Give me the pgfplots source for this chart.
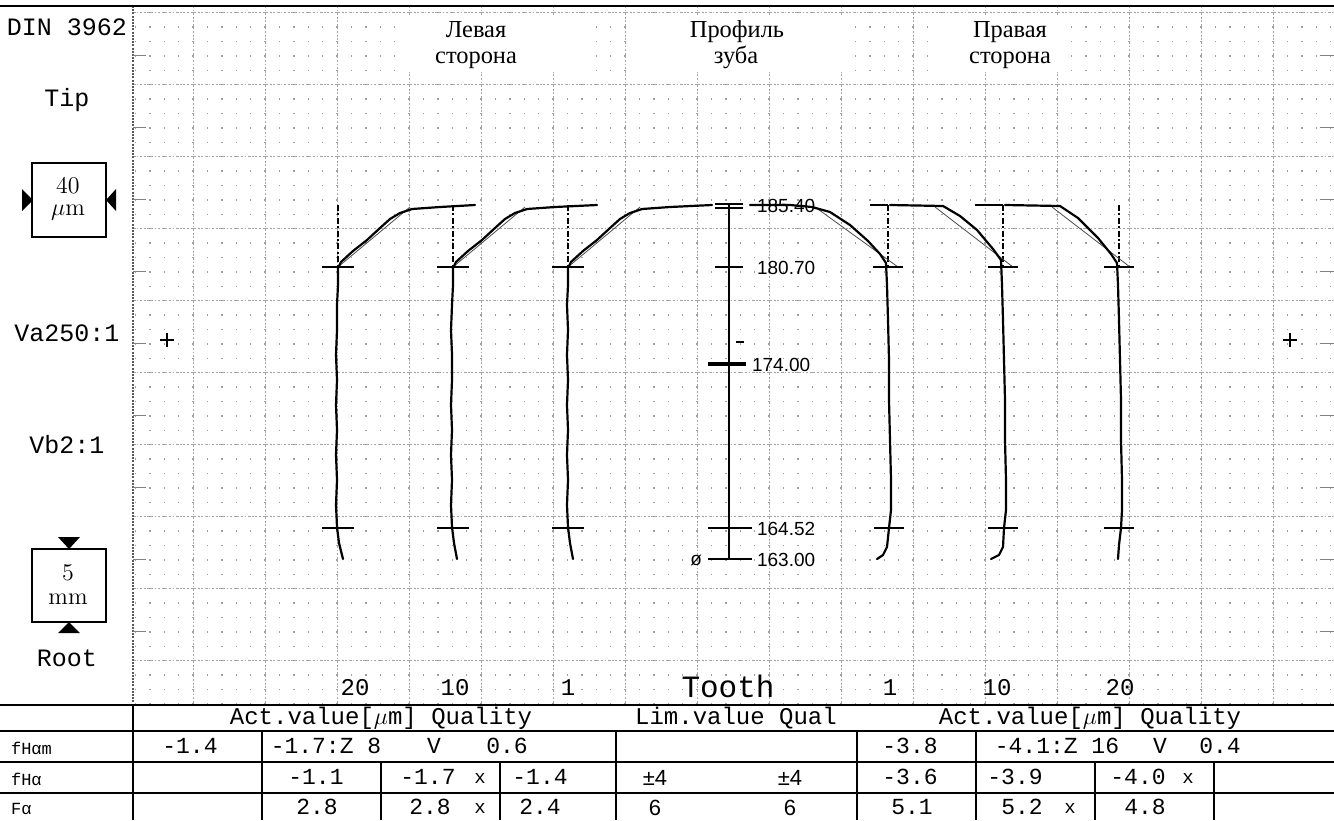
\documentclass[border=0pt]{standalone}
\usepackage{pgfplots}
\pgfplotsset{compat=1.18}
\usepackage{fontspec}
\newfontfamily\mono{Liberation Mono}
\newfontfamily\rufont{Liberation Serif}
\newfontfamily\arialf{Liberation Sans}
\tikzset{
  majg/.style={gray!70, line width=0.45pt, dash pattern=on 0.9pt off 0.9pt},
  ming/.style={gray!75, line width=0.7pt, dash pattern=on 0.7pt off 6.5pt},
  tr/.style={black, line width=1.1pt, line join=round, line cap=round},
  crs/.style={black, line width=1.4pt},
  refl/.style={black, line width=0.9pt, dash pattern=on 3pt off 1.2pt on 1pt off 1.2pt},
  noml/.style={black!70, line width=0.4pt},
  tbl/.style={black, line width=0.9pt},
  lab/.style={font=\mono\fontsize{12.5}{15}\selectfont},
  tv/.style={font=\mono\fontsize{11.5}{13}\selectfont},
  hd/.style={font=\mono\fontsize{12}{14}\selectfont},
  rl/.style={font=\mono\fontsize{8.5}{10}\selectfont, anchor=west},
  scl/.style={font=\arialf\fontsize{9.5}{11}\selectfont, anchor=west},
  ru/.style={font=\rufont\fontsize{12.2}{14}\selectfont, inner sep=0pt, anchor=base},
  sv/.style={font=\arialf\fontsize{11}{13}\selectfont},
}
\begin{document}
\begin{tikzpicture}
\begin{axis}[
  scale only axis, width=667pt, height=410pt,
  xmin=0, xmax=1334, ymin=0, ymax=820, y dir=reverse,
  hide axis, clip=false,
]
% ---------- grid ----------
\pgfplotsinvokeforeach{135.4,149.8,...,1331}{\draw[ming] (axis cs:#1,12) -- (axis cs:#1,705);}
\pgfplotsinvokeforeach{193,265,...,1273}{\draw[majg] (axis cs:#1,6) -- (axis cs:#1,705);}
\pgfplotsinvokeforeach{12,84,...,660}{\draw[majg] (axis cs:133,#1) -- (axis cs:1334,#1);}
\draw[gray!70!black, line width=0.6pt, dash pattern=on 1pt off 0.6pt] (axis cs:133,6) -- (axis cs:133,705);
\pgfplotsinvokeforeach{55,127,...,631}{\draw[gray, line width=0.5pt] (axis cs:133,#1) -- (axis cs:146,#1);
  \draw[gray, line width=0.5pt] (axis cs:1320,#1) -- (axis cs:1334,#1);}
\draw[black, line width=0.8pt] (axis cs:0,6) -- (axis cs:1334,6);
% white title boxes
\fill[white] (axis cs:408,15) rectangle (axis cs:590,72);
\fill[white] (axis cs:632,15) rectangle (axis cs:850,72);
\fill[white] (axis cs:940,15) rectangle (axis cs:1070,72);

% ---------- left panel ----------
\node[lab] at (axis cs:67,27) {DIN 3962};
\node[lab] at (axis cs:67,100) {Tip};
\node[lab] at (axis cs:67,333) {Va250:1};
\node[lab] at (axis cs:67,445) {Vb2:1};
\node[lab] at (axis cs:67,658) {Root};
\draw[black, line width=1.1pt] (axis cs:32,163) rectangle (axis cs:106,237);
\node[font=\fontsize{12}{14}\selectfont] at (axis cs:68,186) {40};
\node[font=\fontsize{12}{14}\selectfont] at (axis cs:68,213) {$\mu$m};
\fill (axis cs:22,189) -- (axis cs:33,200) -- (axis cs:22,211) -- cycle;
\fill (axis cs:116,189) -- (axis cs:106,200) -- (axis cs:116,211) -- cycle;
\draw[black, line width=1.1pt] (axis cs:32,549) rectangle (axis cs:106,622);
\node[font=\fontsize{12}{14}\selectfont] at (axis cs:68,573) {5};
\node[font=\fontsize{12}{14}\selectfont] at (axis cs:68,599) {mm};
\fill (axis cs:58,537) -- (axis cs:80,537) -- (axis cs:69,549) -- cycle;
\fill (axis cs:58,633) -- (axis cs:80,633) -- (axis cs:69,622) -- cycle;

% ---------- titles ----------
\node[ru] at (axis cs:476,37) {Левая};
\node[ru] at (axis cs:476,63) {сторона};
\node[ru] at (axis cs:737,37) {Профиль};
\node[ru] at (axis cs:736,63) {зуба};
\node[ru] at (axis cs:1010,37) {Правая};
\node[ru] at (axis cs:1010,63) {сторона};

% plus marks
\addplot[black, line width=0.6pt] coordinates {(160,340) (174,340)};
\addplot[black, line width=0.6pt] coordinates {(167,333) (167,347)};
\addplot[black, line width=0.6pt] coordinates {(1283,340) (1297,340)};
\addplot[black, line width=0.6pt] coordinates {(1290,333) (1290,347)};

% ---------- centre scale ----------
\addplot[black, line width=0.7pt] coordinates {(729,204) (729,559)};
\addplot[black, line width=0.8pt] coordinates {(715,204) (743,204)};
\addplot[black, line width=0.8pt] coordinates {(715,208) (743,208)};
\addplot[black, line width=0.8pt] coordinates {(715,267) (743,267)};
\addplot[black, line width=0.6pt] coordinates {(736,342) (744,342)};
\addplot[black, line width=2.2pt] coordinates {(708,364) (746,364)};
\addplot[black, line width=0.8pt] coordinates {(708,528) (752,528)};
\addplot[black, line width=0.8pt] coordinates {(708,559) (752,559)};
\node[scl] at (axis cs:750,206) {185.40};
\node[scl] at (axis cs:750,268) {180.70};
\node[scl] at (axis cs:745,365) {174.00};
\node[scl] at (axis cs:750,529) {164.52};
\node[scl] at (axis cs:750,560) {163.00};
\node[font=\arialf\fontsize{9.5}{11}\selectfont, anchor=east] at (axis cs:709,560) {ø};

% ---------- left flank traces ----------
% tooth 20
\addplot[refl] coordinates {(338,205) (338,267)};
\addplot[noml] coordinates {(338,267) (410,207)};
\addplot[tr] coordinates {(343,559) (339,543) (337,527) (336,505) (337,480) (336,455) (337,430) (336,405) (337,380) (336,355) (337,330) (337,305) (338,285) (338,268) (341,262) (353,251) (367,240) (380,228) (390,219) (400,213) (412,209) (440,207) (475,205)};
\addplot[crs] coordinates {(322,267) (354,267)};
\addplot[crs] coordinates {(322,528) (354,528)};
% tooth 10
\addplot[refl] coordinates {(453,205) (453,267)};
\addplot[noml] coordinates {(453,267) (525,207)};
\addplot[tr] coordinates {(457,559) (454,543) (452,527) (451,505) (452,480) (451,455) (452,430) (451,405) (452,380) (452,355) (451,330) (452,305) (453,285) (453,268) (456,262) (468,251) (482,240) (495,228) (505,219) (515,213) (527,209) (555,207) (597,205)};
\addplot[crs] coordinates {(437,267) (469,267)};
\addplot[crs] coordinates {(437,528) (469,528)};
% tooth 1
\addplot[refl] coordinates {(568,205) (568,267)};
\addplot[noml] coordinates {(568,267) (640,207)};
\addplot[tr] coordinates {(573,559) (570,543) (568,527) (567,505) (568,480) (567,455) (568,430) (567,405) (568,380) (567,355) (568,330) (567,305) (568,285) (568,268) (571,262) (583,251) (597,240) (610,228) (620,219) (630,213) (642,209) (670,207) (712,205)};
\addplot[crs] coordinates {(552,267) (584,267)};
\addplot[crs] coordinates {(552,528) (584,528)};

% ---------- right flank traces ----------
% tooth 1
\addplot[black, line width=1.1pt] coordinates {(870,205) (888,205)};
\addplot[refl] coordinates {(888,205) (888,267)};
\addplot[noml] coordinates {(815,207) (898,267)};
\addplot[tr] coordinates {(750,205) (790,205) (812,207) (830,212) (850,225) (868,241) (880,254) (886,263) (887,285) (888,320) (889,360) (889,400) (890,440) (891,480) (891,510) (889,528) (887,547) (883,555) (877,559)};
\addplot[crs] coordinates {(873,267) (903,267)};
\addplot[crs] coordinates {(874,528) (904,528)};
% tooth 10
\addplot[black, line width=1.1pt] coordinates {(975,205) (1003,205)};
\addplot[refl] coordinates {(1003,205) (1003,267)};
\addplot[noml] coordinates {(935,207) (1013,267)};
\addplot[tr] coordinates {(890,205) (943,206) (960,216) (977,230) (993,249) (1001,260) (1002,285) (1003,320) (1004,360) (1005,400) (1005,440) (1006,480) (1006,510) (1004,528) (1003,547) (999,555) (991,559)};
\addplot[crs] coordinates {(988,267) (1018,267)};
\addplot[crs] coordinates {(988,528) (1018,528)};
% tooth 20
\addplot[refl] coordinates {(1119,205) (1119,267)};
\addplot[noml] coordinates {(1052,207) (1130,267)};
\addplot[tr] coordinates {(1005,205) (1060,206) (1078,218) (1098,238) (1111,254) (1117,263) (1118,285) (1119,320) (1120,360) (1121,400) (1121,440) (1122,480) (1122,510) (1121,528) (1119,545) (1118,559)};
\addplot[crs] coordinates {(1104,267) (1134,267)};
\addplot[crs] coordinates {(1104,528) (1134,528)};

% ---------- tooth labels ----------
\node[font=\mono\fontsize{12}{14}\selectfont] at (axis cs:355,688) {20};
\node[font=\mono\fontsize{12}{14}\selectfont] at (axis cs:455,688) {10};
\node[font=\mono\fontsize{12}{14}\selectfont] at (axis cs:568,688) {1};
\node[font=\mono\fontsize{15.5}{17}\selectfont] at (axis cs:728,686) {Tooth};
\node[font=\mono\fontsize{12}{14}\selectfont] at (axis cs:890,688) {1};
\node[font=\mono\fontsize{12}{14}\selectfont] at (axis cs:997,688) {10};
\node[font=\mono\fontsize{12}{14}\selectfont] at (axis cs:1120,688) {20};

% ---------- table ----------
\fill[white] (axis cs:0,705) rectangle (axis cs:1334,820);
\draw[black, line width=1.3pt] (axis cs:0,705) -- (axis cs:1334,705);
\draw[tbl] (axis cs:0,731) -- (axis cs:1334,731);
\draw[tbl] (axis cs:0,762) -- (axis cs:1334,762);
\draw[tbl] (axis cs:0,793) -- (axis cs:1334,793);
\draw[tbl] (axis cs:133,705) -- (axis cs:133,820);
\draw[tbl] (axis cs:262,731) -- (axis cs:262,820);
\draw[tbl] (axis cs:381,762) -- (axis cs:381,820);
\draw[tbl] (axis cs:500,762) -- (axis cs:500,820);
\draw[tbl] (axis cs:616,731) -- (axis cs:616,820);
\draw[tbl] (axis cs:857,731) -- (axis cs:857,820);
\draw[tbl] (axis cs:976,731) -- (axis cs:976,820);
\draw[tbl] (axis cs:1095,762) -- (axis cs:1095,820);
\draw[tbl] (axis cs:1214,762) -- (axis cs:1214,820);
% header
\node[hd] at (axis cs:381,718) {Act.value[$\mu$m] Quality};
\node[hd] at (axis cs:736,718) {Lim.value Qual};
\node[hd] at (axis cs:1090,718) {Act.value[$\mu$m] Quality};
% row labels
\node[rl] at (axis cs:4,748) {fHαm};
\node[rl] at (axis cs:4,779) {fHα};
\node[rl] at (axis cs:4,809) {Fα};
% row fHam
\node[tv] at (axis cs:190,746) {-1.4};
\node[tv] at (axis cs:326,746) {-1.7:Z 8};
\node[tv] at (axis cs:434,746) {V};
\node[tv] at (axis cs:507,746) {0.6};
\node[tv] at (axis cs:910,746) {-3.8};
\node[tv] at (axis cs:1057,746) {-4.1:Z 16};
\node[tv] at (axis cs:1160,746) {V};
\node[tv] at (axis cs:1220,746) {0.4};
% row fHa
\node[tv] at (axis cs:316,777) {-1.1};
\node[tv] at (axis cs:428,777) {-1.7};
\node[tv] at (axis cs:480,778) {\fontsize{9.5}{11}\selectfont x};
\node[tv] at (axis cs:540,777) {-1.4};
\node[sv] at (axis cs:655,778) {±4};
\node[sv] at (axis cs:790,778) {±4};
\node[tv] at (axis cs:910,777) {-3.6};
\node[tv] at (axis cs:1015,777) {-3.9};
\node[tv] at (axis cs:1138,777) {-4.0};
\node[tv] at (axis cs:1188,778) {\fontsize{9.5}{11}\selectfont x};
% row Fa
\node[tv] at (axis cs:317,807) {2.8};
\node[tv] at (axis cs:430,807) {2.8};
\node[tv] at (axis cs:480,808) {\fontsize{9.5}{11}\selectfont x};
\node[tv] at (axis cs:540,807) {2.4};
\node[sv] at (axis cs:655,808) {6};
\node[sv] at (axis cs:790,808) {6};
\node[tv] at (axis cs:912,807) {5.1};
\node[tv] at (axis cs:1022,807) {5.2};
\node[tv] at (axis cs:1070,808) {\fontsize{9.5}{11}\selectfont x};
\node[tv] at (axis cs:1145,807) {4.8};
\end{axis}
\pgfresetboundingbox
\path[use as bounding box] (current axis.south west) rectangle (current axis.north east);
\end{tikzpicture}
\end{document}
